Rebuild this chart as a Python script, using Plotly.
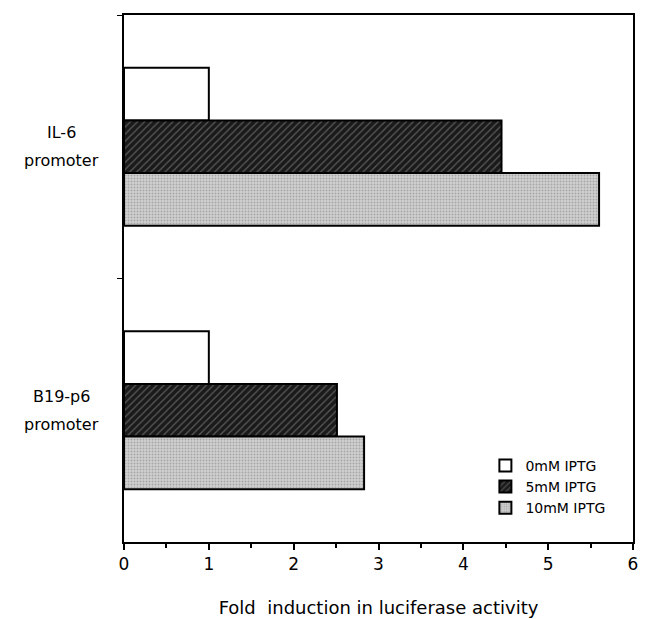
import plotly.graph_objects as go

categories = ["IL-6 promoter", "B19-p6 promoter"]
cat_line1 = ["IL-6", "B19-p6"]
cat_line2 = ["promoter", "promoter"]
series_names = ["0mM IPTG", "5mM IPTG", "10mM IPTG"]
vals_0mM = [1.0, 1.0]
vals_5mM = [4.45, 2.51]
vals_10mM = [5.6, 2.83]
x_ticks = [0, 1, 2, 3, 4, 5, 6]

FONT = "DejaVu Sans"

fig = go.Figure()
fig.add_trace(go.Bar(
    y=categories, x=vals_0mM, name=series_names[0], orientation="h",
    marker=dict(color="white", line=dict(color="black", width=2)),
))
fig.add_trace(go.Bar(
    y=categories, x=vals_5mM, name=series_names[1], orientation="h",
    marker=dict(color="#1a1a1a", line=dict(color="black", width=2),
                pattern=dict(shape="/", fgcolor="#9a9a9a", bgcolor="#1a1a1a",
                             size=5, solidity=0.25, fillmode="overlay")),
))
fig.add_trace(go.Bar(
    y=categories, x=vals_10mM, name=series_names[2], orientation="h",
    marker=dict(color="#cccccc", line=dict(color="black", width=2),
                pattern=dict(shape=".", fgcolor="#7a7a7a", bgcolor="#d0d0d0",
                             size=3, solidity=0.3, fillmode="overlay")),
))

for cat, l1, l2 in zip(categories, cat_line1, cat_line2):
    for txt, shift in ((l1, 14), (l2, -14)):
        fig.add_annotation(
            x=-0.122, xref="paper", y=cat, yref="y", text=txt, showarrow=False,
            xanchor="center", yanchor="middle", yshift=shift,
            font=dict(family=FONT, size=16, color="black"),
        )

fig.update_layout(
    width=646, height=619,
    margin=dict(l=124, r=13, t=15, b=77),
    paper_bgcolor="white", plot_bgcolor="white",
    barmode="group", bargap=0.4, bargroupgap=0,
    font=dict(family=FONT, color="black"),
    showlegend=True,
    legend=dict(x=0.71, y=0.175, xanchor="left", yanchor="top",
                bgcolor="rgba(0,0,0,0)", font=dict(family=FONT, size=14),
                itemwidth=30, tracegroupgap=0),
    xaxis=dict(
        range=[0, 6], tickvals=x_ticks, ticks="outside", ticklen=6, tickwidth=1.5,
        tickcolor="black", showline=True, linecolor="black", linewidth=2,
        mirror=True, showgrid=False, zeroline=False, automargin=False,
        tickfont=dict(family=FONT, size=17), ticklabelstandoff=0,
        minor=dict(dtick=0.5, ticks="outside", ticklen=4, tickcolor="black", showgrid=False),
        title=dict(text="Fold  induction in luciferase activity",
                   font=dict(family=FONT, size=18), standoff=28),
    ),
    yaxis=dict(
        categoryorder="array", categoryarray=categories, autorange="reversed",
        showticklabels=False, ticks="outside", tickson="boundaries", ticklen=5,
        tickcolor="black", showline=True, linecolor="black", linewidth=2,
        mirror=True, showgrid=False, zeroline=False, automargin=False,
    ),
)

fig.write_html("out.html")
